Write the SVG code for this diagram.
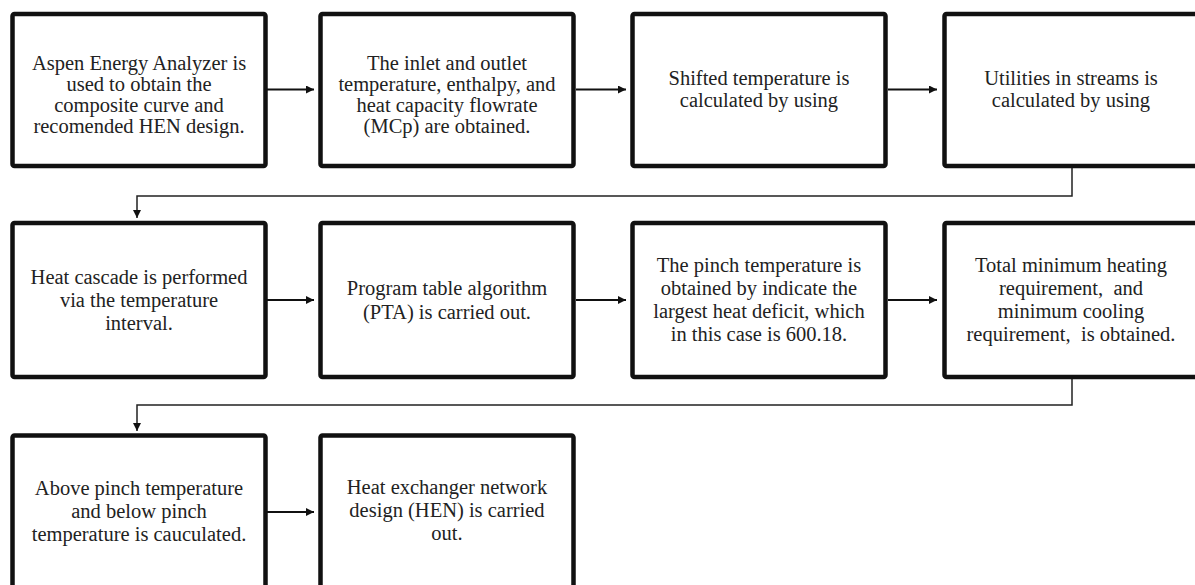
<svg xmlns="http://www.w3.org/2000/svg" width="1195" height="585" viewBox="0 0 1195 585">
<style>
.box{fill:#fff;stroke:#111;stroke-width:4.5}
.t{font-family:"Liberation Serif","Times New Roman",serif;font-size:20.5px;fill:#222;text-anchor:middle}
.c{fill:none;stroke:#111;stroke-width:2.2}
.e{fill:none;stroke:#222;stroke-width:1.5}
</style>
<defs>
<marker id="ah" viewBox="0 0 10 10" refX="10" refY="5" markerWidth="9" markerHeight="8" markerUnits="userSpaceOnUse" orient="auto">
<path d="M0,0 L10,5 L0,10 z" fill="#111"/>
</marker>
</defs>
<rect width="1195" height="585" fill="#fff"/>
<g id="connectors">
<line class="c" x1="267" y1="89.5" x2="314" y2="89.5" marker-end="url(#ah)"/>
<line class="c" x1="576" y1="89.5" x2="626" y2="89.5" marker-end="url(#ah)"/>
<line class="c" x1="888" y1="89.5" x2="937" y2="89.5" marker-end="url(#ah)"/>
<path class="e" d="M1072,166 V196 H137 V218" marker-end="url(#ah)"/>
<line class="c" x1="267" y1="300" x2="314" y2="300" marker-end="url(#ah)"/>
<line class="c" x1="576" y1="300" x2="626" y2="300" marker-end="url(#ah)"/>
<line class="c" x1="888" y1="300" x2="937" y2="300" marker-end="url(#ah)"/>
<path class="e" d="M1072,378 V405 H137 V431" marker-end="url(#ah)"/>
<line class="c" x1="267" y1="512" x2="314" y2="512" marker-end="url(#ah)"/>
</g>
<g id="n1"><rect class="box" x="12.5" y="14" width="253" height="152" rx="2"/>
<text class="t"><tspan x="139" y="70">Aspen Energy Analyzer is</tspan><tspan x="139" y="91">used to obtain the</tspan><tspan x="139" y="112">composite curve and</tspan><tspan x="139" y="133">recomended HEN design.</tspan></text></g>
<g id="n2"><rect class="box" x="320.5" y="14" width="253" height="152" rx="2"/>
<text class="t"><tspan x="447" y="70">The inlet and outlet</tspan><tspan x="447" y="91">temperature, enthalpy, and</tspan><tspan x="447" y="112">heat capacity flowrate</tspan><tspan x="447" y="133">(MCp) are obtained.</tspan></text></g>
<g id="n3"><rect class="box" x="632.5" y="14" width="253" height="152" rx="2"/>
<text class="t"><tspan x="759" y="85">Shifted temperature is</tspan><tspan x="759" y="107">calculated by using</tspan></text></g>
<g id="n4"><rect class="box" x="944.5" y="14" width="253" height="152" rx="2"/>
<text class="t"><tspan x="1071" y="85">Utilities in streams is</tspan><tspan x="1071" y="107">calculated by using</tspan></text></g>
<g id="n5"><rect class="box" x="12.5" y="223" width="253" height="154" rx="2"/>
<text class="t"><tspan x="139" y="284">Heat cascade is performed</tspan><tspan x="139" y="307">via the temperature</tspan><tspan x="139" y="330">interval.</tspan></text></g>
<g id="n6"><rect class="box" x="320.5" y="223" width="253" height="154" rx="2"/>
<text class="t"><tspan x="447" y="295">Program table algorithm</tspan><tspan x="447" y="319">(PTA) is carried out.</tspan></text></g>
<g id="n7"><rect class="box" x="632.5" y="223" width="253" height="154" rx="2"/>
<text class="t"><tspan x="759" y="272">The pinch temperature is</tspan><tspan x="759" y="295">obtained by indicate the</tspan><tspan x="759" y="318">largest heat deficit, which</tspan><tspan x="759" y="341">in this case is 600.18.</tspan></text></g>
<g id="n8"><rect class="box" x="944.5" y="223" width="253" height="154" rx="2"/>
<text class="t"><tspan x="1071" y="272">Total minimum heating</tspan><tspan x="1071" y="295">requirement,&#160; and</tspan><tspan x="1071" y="318">minimum cooling</tspan><tspan x="1071" y="341">requirement,&#160; is obtained.</tspan></text></g>
<g id="n9"><rect class="box" x="12.5" y="435.5" width="253" height="155" rx="2"/>
<text class="t"><tspan x="139" y="495">Above pinch temperature</tspan><tspan x="139" y="518">and below pinch</tspan><tspan x="139" y="541">temperature is cauculated.</tspan></text></g>
<g id="n10"><rect class="box" x="320.5" y="435.5" width="253" height="155" rx="2"/>
<text class="t"><tspan x="447" y="494">Heat exchanger network</tspan><tspan x="447" y="517">design (HEN) is carried</tspan><tspan x="447" y="540">out.</tspan></text></g>
</svg>
